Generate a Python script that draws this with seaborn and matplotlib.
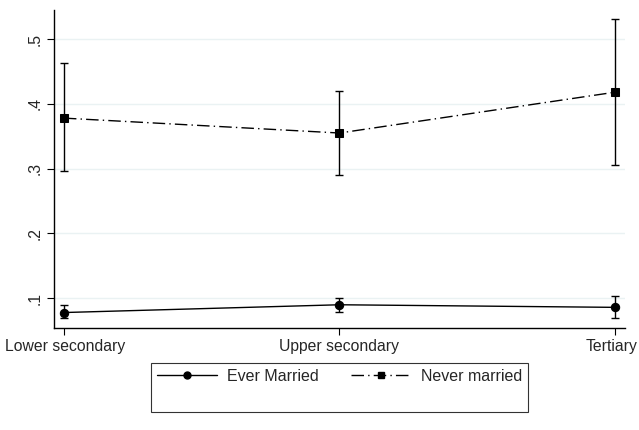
import numpy as np
import pandas as pd
import matplotlib
matplotlib.use("Agg")
import matplotlib.pyplot as plt
import matplotlib.transforms as mtransforms
from matplotlib.lines import Line2D
import seaborn as sns

# values
levels = ["Lower secondary", "Upper secondary", "Tertiary"]
ever_mean = [0.078, 0.090, 0.086]
ever_lo = [0.069, 0.079, 0.070]
ever_hi = [0.090, 0.100, 0.104]
never_mean = [0.378, 0.355, 0.418]
never_lo = [0.296, 0.290, 0.306]
never_hi = [0.463, 0.420, 0.531]
yticks = [0.1, 0.2, 0.3, 0.4, 0.5]
ytick_labels = [".1", ".2", ".3", ".4", ".5"]

df = pd.DataFrame({
    "x": list(range(len(levels))) * 2,
    "mean": ever_mean + never_mean,
    "lo": ever_lo + never_lo,
    "hi": ever_hi + never_hi,
    "group": ["Ever Married"] * 3 + ["Never married"] * 3,
})

sns.set_style("white")
plt.rcParams["font.family"] = ["Liberation Sans", "DejaVu Sans"]

fig = plt.figure(figsize=(6.39, 4.30), dpi=100)
ax = fig.add_axes([0.0845, 0.237, 0.8935, 0.740])

dashdot = (0, (9, 3, 1, 3))
styles = {
    "Ever Married": dict(marker="o", ls="-"),
    "Never married": dict(marker="s", ls=dashdot),
}

for g, sub in df.groupby("group"):
    st = styles[g]
    sns.lineplot(data=sub, x="x", y="mean", ax=ax, color="black", lw=1,
                 marker=st["marker"], markersize=6, markeredgecolor="black",
                 linestyle=st["ls"], legend=False)
    ax.errorbar(sub["x"], sub["mean"],
                yerr=[sub["mean"] - sub["lo"], sub["hi"] - sub["mean"]],
                fmt="none", ecolor="black", elinewidth=1, capsize=3, capthick=1)

ax.set_xlim(-0.036, 2.036)
ax.set_ylim(0.054, 0.545)
ax.set_xticks(range(len(levels)))
ax.set_xticklabels(levels, fontsize=11.3)
ax.set_yticks(yticks)
ax.set_yticklabels(ytick_labels, fontsize=11.3, rotation=90, va="center")
ax.set_xlabel("")
ax.set_ylabel("")
ax.grid(axis="y", color="#eaf2f3", lw=1)
ax.set_axisbelow(True)
for s in ["top", "right"]:
    ax.spines[s].set_visible(False)
for s in ["left", "bottom"]:
    ax.spines[s].set_color("black")
    ax.spines[s].set_linewidth(1)
ax.tick_params(axis="both", length=5, width=0.8, color="black", direction="out",
               left=True, bottom=True, pad=3)

# keep the last and first labels inside the canvas
xlabs = ax.get_xticklabels()
xlabs[-1].set_transform(xlabs[-1].get_transform() +
                        mtransforms.ScaledTranslation(-3 / 100, 0, fig.dpi_scale_trans))
xlabs[0].set_transform(xlabs[0].get_transform() +
                       mtransforms.ScaledTranslation(1 / 100, 0, fig.dpi_scale_trans))

handles = [
    Line2D([], [], color="black", lw=1, marker="o", markersize=5),
    Line2D([], [], color="none"),
    Line2D([], [], color="black", lw=1, marker="s", markersize=5,
           linestyle=dashdot),
    Line2D([], [], color="none"),
]
labels = ["Ever Married", " ", "Never married", " "]
leg = fig.legend(handles, labels, ncol=2, loc="upper center",
                 bbox_to_anchor=(0.531, 0.156), fontsize=11.5, frameon=True,
                 fancybox=False, edgecolor="black", handlelength=3.8,
                 handletextpad=0.6, columnspacing=2.0, borderpad=0.35,
                 labelspacing=0.5, borderaxespad=0)
leg.get_frame().set_linewidth(0.8)

fig.savefig("out.png", dpi=100)
